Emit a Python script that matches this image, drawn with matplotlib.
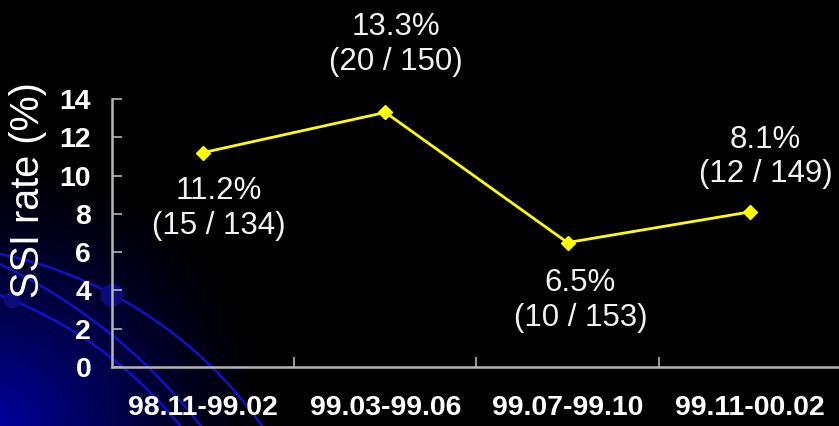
import numpy as np
import matplotlib
matplotlib.use("Agg")
import matplotlib.pyplot as plt

plt.rcParams['font.family'] = ['Liberation Sans', 'DejaVu Sans']

# data
periods = ["98.11-99.02", "99.03-99.06", "99.07-99.10", "99.11-00.02"]
rates = [11.2, 13.3, 6.5, 8.1]
cases = [15, 20, 10, 12]
totals = [134, 150, 153, 149]
yticks = [0, 2, 4, 6, 8, 10, 12, 14]

# label offsets from each point, in pixels
label_dx = [16, 11, 13, 16]
label_dy = [-56, 68, -58, 55]

W, H = 839, 426
fig = plt.figure(figsize=(W / 100, H / 100), dpi=100, facecolor="black")

# background: blue glow + arcs in the lower left corner (slide template)
bg = fig.add_axes([0, 0, 1, 1], zorder=0)
bg.axis("off")
yy, xx = np.mgrid[0:H, 0:W]
d = np.hypot(xx, yy - H)
glow = np.clip(1 - d / 270, 0, 1) ** 1.3
img = np.zeros((H, W, 3))
img[..., 2] = 0.62 * glow
bg.imshow(img, extent=(0, W, H, 0), aspect="auto", interpolation="bilinear")

arcs = [(-87, 672, 427), (-240, 768, 558), (-149, 690, 422)]
t = np.linspace(0, 2 * np.pi, 2000)
for cx, cy, r in arcs:
    bg.plot(cx + r * np.cos(t), cy + r * np.sin(t), color="#1212c4", lw=1.8)
bg.scatter([112, 12], [295, 300], s=[280, 150], color="#0b0b7a",
           linewidths=0, zorder=3)
bg.set_xlim(0, W)
bg.set_ylim(H, 0)

# main chart
ax = fig.add_axes([112 / W, 59 / H, (W - 112) / W, 268 / H], zorder=2)
ax.set_facecolor("none")
x = np.arange(len(periods))
ax.plot(x, rates, color="#ffff00", lw=2, marker="D", ms=7.2,
        markerfacecolor="#ffff00", markeredgecolor="#ffff00")

for i in range(len(rates)):
    ax.annotate(f"{rates[i]}%\n({cases[i]} / {totals[i]})",
                xy=(x[i], rates[i]), xytext=(label_dx[i], label_dy[i]),
                textcoords="offset pixels", ha="center", va="center",
                fontsize=22.5, color="#f2f2f2", linespacing=1.2)

ax.set_xlim(-0.5, -0.5 + (W - 112) / 182.2)
ax.set_ylim(0, 14)
ax.set_yticks(yticks)
ax.set_xticks(x)
ax.set_xticklabels(periods)
ax.set_xticks(x[:-1] + 0.5, minor=True)

for s in ["top", "right"]:
    ax.spines[s].set_visible(False)
for s in ["left", "bottom"]:
    ax.spines[s].set_color("#b4b4b4")
    ax.spines[s].set_linewidth(1.8)

ax.tick_params(axis="y", direction="in", length=7, width=1.2, color="#b4b4b4",
               labelcolor="white", labelsize=20.5, pad=15)
ax.tick_params(axis="x", which="major", length=0, labelcolor="white",
               labelsize=20.5, pad=20)
ax.tick_params(axis="x", which="minor", direction="in", length=7, width=1.2,
               color="#b4b4b4")
for lab in ax.get_xticklabels() + ax.get_yticklabels():
    lab.set_fontweight("bold")

fig.text(28 / W, 1 - 190 / H, "SSI rate (%)", rotation=90, ha="center",
         va="center", fontsize=28.5, color="white")

fig.savefig("out.png", dpi=100, facecolor="black")
